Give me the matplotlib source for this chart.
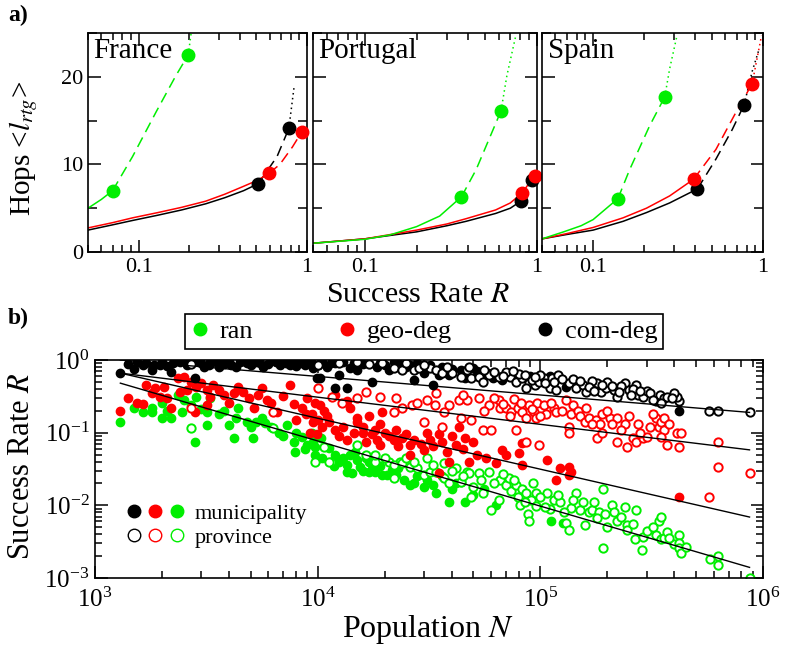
import matplotlib
matplotlib.use('Agg')
import matplotlib.pyplot as plt
from matplotlib.lines import Line2D
from matplotlib.legend_handler import HandlerTuple
from matplotlib.ticker import NullFormatter, FixedLocator, MultipleLocator, LogLocator

plt.rcParams['font.family'] = ['Liberation Serif', 'DejaVu Serif']
plt.rcParams['mathtext.fontset'] = 'stix'

GREEN = '#00ee00'
RED = '#ff0000'
BLACK = '#000000'

# ---------------- panel a: hops vs success rate ----------------
# points; the two dots split solid / dashed / dotted
fr_ran_R = [0.05, 0.06, 0.070, 0.092, 0.127, 0.166, 0.197, 0.205]
fr_ran_L = [5.0, 6.0, 7.0, 10.9, 16.0, 20.1, 22.5, 25.0]
fr_ran_dots_R = [0.070, 0.197]
fr_ran_dots_L = [7.0, 22.5]
fr_geo_R = [0.05, 0.07, 0.092, 0.13, 0.18, 0.25, 0.325, 0.42, 0.51, 0.596, 0.69, 0.82, 0.93]
fr_geo_L = [2.75, 3.35, 3.9, 4.5, 5.1, 5.8, 6.6, 7.5, 8.2, 9.0, 10.0, 12.0, 13.7]
fr_geo_dots_R = [0.596, 0.93]
fr_geo_dots_L = [9.0, 13.7]
fr_com_R = [0.05, 0.07, 0.092, 0.13, 0.18, 0.25, 0.325, 0.42, 0.514, 0.664, 0.78, 0.84]
fr_com_L = [2.5, 3.1, 3.6, 4.2, 4.8, 5.5, 6.2, 7.0, 7.8, 10.9, 14.1, 19.0]
fr_com_dots_R = [0.514, 0.78]
fr_com_dots_L = [7.8, 14.1]

pt_ran_R = [0.05, 0.1, 0.14, 0.2, 0.272, 0.364, 0.443, 0.527, 0.618, 0.668, 0.753]
pt_ran_L = [1.0, 1.45, 1.95, 2.9, 4.1, 6.3, 9.4, 12.9, 16.1, 20.1, 24.7]
pt_ran_dots_R = [0.364, 0.618]
pt_ran_dots_L = [6.3, 16.1]
pt_geo_R = [0.05, 0.1, 0.2, 0.3, 0.387, 0.575, 0.7, 0.816, 0.968]
pt_geo_L = [1.0, 1.5, 2.5, 3.2, 3.8, 4.8, 5.6, 6.7, 8.7]
pt_geo_dots_R = [0.816, 0.968]
pt_geo_dots_L = [6.7, 8.7]
pt_com_R = [0.05, 0.1, 0.2, 0.3, 0.387, 0.575, 0.7, 0.805, 0.93]
pt_com_L = [1.0, 1.5, 2.3, 3.0, 3.5, 4.4, 5.0, 5.8, 8.2]
pt_com_dots_R = [0.805, 0.93]
pt_com_dots_L = [5.8, 8.2]

es_ran_R = [0.05, 0.067, 0.085, 0.1, 0.14, 0.164, 0.215, 0.264, 0.282, 0.31]
es_ran_L = [1.5, 2.3, 3.0, 3.7, 6.1, 9.4, 14.4, 17.7, 20.9, 24.5]
es_ran_dots_R = [0.14, 0.264]
es_ran_dots_L = [6.1, 17.7]
es_geo_R = [0.05, 0.07, 0.1, 0.15, 0.206, 0.282, 0.39, 0.528, 0.691, 0.863, 0.98]
es_geo_L = [1.5, 2.1, 2.8, 3.9, 5.0, 6.4, 8.3, 11.7, 15.9, 19.2, 24.7]
es_geo_dots_R = [0.39, 0.863]
es_geo_dots_L = [8.3, 19.2]
es_com_R = [0.05, 0.07, 0.1, 0.15, 0.206, 0.282, 0.411, 0.528, 0.66, 0.774, 0.863, 0.95]
es_com_L = [1.5, 2.0, 2.5, 3.5, 4.5, 5.6, 7.2, 10.6, 14.0, 16.8, 20.6, 23.2]
es_com_dots_R = [0.411, 0.774]
es_com_dots_L = [7.2, 16.8]

countries = ['France', 'Portugal', 'Spain']

# ---------------- panel b: success rate vs population ----------------
com_mun_N = [1300, 1500, 1650, 1800, 1850, 2000, 2200, 2250, 2400, 2700, 2800, 3000, 3300, 3600,
             4000, 4300, 4800, 5300, 5700, 6500, 7500, 8500, 9500, 9900, 10000, 11000, 10200, 12500,
             12000, 13600, 14000, 15000, 17500, 18500, 21000, 27000, 30000, 33000, 35000, 39000,
             46000, 61000, 67000, 130000, 420000, 2100, 2600, 3100, 3500, 3800, 4500, 5000, 6000,
             7000, 8000, 9000, 12000, 16000, 20000, 23000, 25000, 40000, 52000, 58000, 75000, 90000,
             1400, 1550, 1700, 1950, 2300, 2550, 2900, 3250, 3700, 4100, 4600, 5100, 5500, 6200,
             6800, 7200, 7800, 8300, 8800, 9300, 10500, 11500, 13000, 14500, 19000, 22000, 26000,
             28000, 32000, 36000, 44000, 50000, 55000, 80000, 110000]
com_mun_R = [0.66, 0.75, 0.85, 0.73, 0.85, 0.94, 0.68, 0.9, 0.93, 0.93, 0.56, 0.9, 0.93, 0.8,
             0.93, 0.8, 0.9, 0.93, 0.8, 0.93, 0.85, 0.9, 0.78, 0.56, 0.85, 0.8, 0.57, 0.62,
             0.41, 0.41, 0.78, 0.73, 0.5, 0.8, 0.73, 0.53, 0.66, 0.45, 0.62, 0.62,
             0.57, 0.57, 0.53, 0.43, 0.2, 0.82, 0.86, 0.8, 0.95, 0.88, 0.95, 0.85, 0.88,
             0.95, 0.82, 0.92, 0.9, 0.88, 0.85, 0.9, 0.8, 0.75, 0.7, 0.66, 0.62, 0.6,
             0.88, 0.95, 0.9, 0.85, 0.97, 0.95, 0.97, 0.85, 0.97, 0.86, 0.97, 0.97, 0.9, 0.97,
             0.86, 0.9, 0.97, 0.95, 0.85, 0.97, 0.95, 0.9, 0.95, 0.9, 0.9, 0.95, 0.85,
             0.9, 0.85, 0.8, 0.72, 0.78, 0.65, 0.6, 0.6]

com_prov_N = [2700, 10000, 19500, 22000, 24000, 27000, 28500, 32000, 34000, 36000, 40000, 44000,
              49000, 53000, 55000, 59000, 65000, 73000, 78000, 83000, 89000, 95000, 86000, 92000,
              99000, 104000, 113000, 110000, 118000, 135000, 145000, 155000, 160000, 180000, 188000,
              197000, 215000, 220000, 240000, 250000, 270000, 275000, 290000, 330000, 345000, 360000,
              370000, 420000, 410000, 570000, 630000, 870000, 12500, 15000, 17000, 25000, 30000,
              38000, 47000, 70000, 80000, 100000, 120000, 140000, 170000, 200000, 230000, 260000,
              300000, 400000, 48000, 56000, 62000, 68000, 75000, 85000, 95000, 105000, 115000,
              125000, 150000, 165000, 175000, 190000, 210000, 225000, 255000, 280000, 310000,
              320000, 350000, 390000]
com_prov_R = [0.88, 0.85, 0.9, 0.78, 0.73, 0.73, 0.78, 0.78, 0.73, 0.66, 0.66, 0.58,
              0.57, 0.58, 0.5, 0.62, 0.58, 0.58, 0.5, 0.57, 0.48, 0.45, 0.41, 0.53,
              0.5, 0.57, 0.57, 0.41, 0.39, 0.48, 0.41, 0.45, 0.36, 0.48, 0.36,
              0.41, 0.39, 0.31, 0.48, 0.39, 0.45, 0.33, 0.31, 0.27, 0.33, 0.3,
              0.31, 0.27, 0.31, 0.2, 0.2, 0.19, 0.92, 0.95, 0.88, 0.92, 0.85,
              0.8, 0.72, 0.68, 0.65, 0.62, 0.62, 0.55, 0.52, 0.5, 0.44, 0.4,
              0.38, 0.35, 0.8, 0.72, 0.68, 0.6, 0.7, 0.62, 0.58, 0.48, 0.5,
              0.55, 0.52, 0.42, 0.38, 0.45, 0.44, 0.36, 0.33, 0.38, 0.35,
              0.28, 0.26, 0.3]

geo_mun_N = [1300, 1540, 1650, 1800, 1860, 1950, 2050, 2200, 2350, 2500, 2400, 2600, 2800, 2850,
             3000, 3200, 3300, 3200, 3600, 4000, 4200, 4400, 4900, 5200, 5600, 5900, 6600, 7500,
             8000, 8900, 9500, 9900, 9200, 9700, 10700, 9400, 10000, 10500, 11300, 12000, 13000,
             14000, 15000, 15000, 16000, 16000, 17500, 18500, 19000, 19500, 17000, 20000, 22500,
             22000, 24000, 26000, 26000, 30000, 32000, 35000, 38000, 42000, 43000, 46000, 52000,
             48000, 67000, 63000, 80000, 83000, 83000, 39000, 35000, 107000, 118000, 123000,
             135000, 135000, 137000, 420000,
             11000, 12500, 13500, 14500, 16500, 18000, 19000, 21000, 23000, 25000, 27000, 29000,
             31000, 33000, 36000, 40000, 45000, 50000, 57000, 70000, 1400, 1700, 2100, 2700,
             3400, 3800, 4600, 5400, 6200, 7000, 7800, 8500, 9000, 10200, 12000, 13500]
geo_mun_R = [0.2, 0.26, 0.25, 0.35, 0.41, 0.31, 0.43, 0.22, 0.56, 0.58, 0.36, 0.39, 0.19, 0.43,
             0.48, 0.39, 0.31, 0.24, 0.39, 0.26, 0.35, 0.43, 0.3, 0.22, 0.41, 0.28, 0.19, 0.45,
             0.15, 0.18, 0.14, 0.095, 0.1, 0.26, 0.2, 0.18, 0.15, 0.12, 0.14, 0.11, 0.12,
             0.22, 0.16, 0.14, 0.12, 0.1, 0.095, 0.08, 0.068, 0.19, 0.17, 0.1, 0.11,
             0.08, 0.085, 0.068, 0.05, 0.058, 0.08, 0.095, 0.055, 0.068, 0.12, 0.085, 0.05,
             0.04, 0.058, 0.038, 0.053, 0.072, 0.036, 0.04, 0.028, 0.042, 0.022, 0.033,
             0.034, 0.026, 0.029, 0.013,
             0.17, 0.09, 0.08, 0.1, 0.075, 0.11, 0.13, 0.09, 0.065, 0.095, 0.08, 0.07,
             0.1, 0.065, 0.075, 0.09, 0.06, 0.075, 0.045, 0.05, 0.3, 0.45, 0.3, 0.5,
             0.45, 0.33, 0.36, 0.33, 0.26, 0.32, 0.25, 0.22, 0.3, 0.24, 0.33, 0.27]

geo_prov_N = [2700, 6300, 10000, 11600, 12800, 15000, 16500, 19000, 22500, 22000, 24000, 26500,
              28000, 31000, 33500, 34000, 37000, 36000, 30000, 39000, 43000, 44000, 47000, 49000,
              53000, 55000, 59000, 60000, 65000, 66000, 70000, 74000, 73000, 79000, 83000, 86000,
              89000, 94000, 96000, 78000, 86000, 97000, 104000, 106000, 115000, 118000, 140000,
              138000, 148000, 150000, 134000, 134000, 158000, 166000, 178000, 186000, 190000,
              180000, 190000, 205000, 220000, 210000, 220000, 240000, 245000, 260000, 270000,
              275000, 290000, 300000, 330000, 340000, 350000, 360000, 360000, 350000, 370000,
              410000, 430000, 420000, 630000, 630000, 870000, 570000, 99000,
              45000, 56000, 62000, 68000, 76000, 82000, 92000, 100000, 112000, 125000, 130000,
              160000, 170000, 200000, 230000, 250000, 280000, 310000, 320000, 380000]
geo_prov_R = [0.22, 0.19, 0.41, 0.31, 0.26, 0.3, 0.36, 0.31, 0.3, 0.19, 0.22, 0.24,
              0.26, 0.28, 0.24, 0.35, 0.19, 0.12, 0.14, 0.24, 0.28, 0.16, 0.28, 0.15,
              0.3, 0.11, 0.24, 0.11, 0.28, 0.22, 0.22, 0.19, 0.17, 0.22, 0.19, 0.16,
              0.24, 0.19, 0.16, 0.11, 0.074, 0.26, 0.24, 0.18, 0.22, 0.19, 0.24,
              0.18, 0.2, 0.17, 0.12, 0.1, 0.14, 0.16, 0.15, 0.13, 0.18,
              0.085, 0.1, 0.16, 0.16, 0.13, 0.074, 0.13, 0.063, 0.085, 0.074,
              0.13, 0.085, 0.088, 0.16, 0.12, 0.14, 0.11, 0.16, 0.088, 0.068,
              0.1, 0.1, 0.063, 0.074, 0.034, 0.028, 0.013, 0.068,
              0.33, 0.2, 0.3, 0.25, 0.29, 0.26, 0.21, 0.17, 0.26, 0.2, 0.28,
              0.22, 0.13, 0.2, 0.11, 0.17, 0.1, 0.12, 0.18, 0.13]

ran_mun_N = [1300, 1500, 1650, 1800, 1800, 2000, 2000, 2200, 2350, 2450, 2500, 2700, 2800, 2850,
             3200, 3200, 3300, 3600, 4000, 4200, 4300, 4400, 4800, 5100, 5300, 5600, 5800, 6700,
             7300, 7800, 7900, 8500, 9000, 9500, 9700, 9400, 9700, 10300, 11300, 12000, 12500,
             13600, 14000, 14700, 15000, 15500, 16000, 17000, 18000, 13600, 17000, 19500, 21500,
             22500, 26000, 27000, 30000, 31000, 34000, 39000, 42000, 44000, 46000, 56000, 63000,
             112000, 127000,
             10500, 11800, 13000, 14200, 16500, 17500, 19000, 20500, 23000, 24500, 28000, 33000,
             36000, 40000, 50000, 2100, 3000, 3800, 5000, 6200, 7000, 8000, 8800]
ran_mun_R = [0.14, 0.22, 0.19, 0.19, 0.22, 0.26, 0.16, 0.16, 0.33, 0.19, 0.28, 0.24, 0.074, 0.31,
             0.126, 0.19, 0.3, 0.18, 0.126, 0.085, 0.16, 0.22, 0.14, 0.085, 0.14, 0.16, 0.136, 0.1,
             0.126, 0.074, 0.055, 0.088, 0.068, 0.074, 0.05, 0.1, 0.063, 0.085, 0.062, 0.05, 0.04,
             0.036, 0.05, 0.055, 0.042, 0.034, 0.03, 0.04, 0.029, 0.029, 0.029, 0.026, 0.031,
             0.026, 0.019, 0.02, 0.018, 0.022, 0.015, 0.011, 0.02, 0.021, 0.011, 0.017, 0.01,
             0.006, 0.0057,
             0.045, 0.035, 0.045, 0.028, 0.045, 0.036, 0.035, 0.026, 0.033, 0.022, 0.025, 0.019,
             0.025, 0.017, 0.014, 0.2, 0.21, 0.2, 0.12, 0.12, 0.09, 0.1, 0.06]

ran_prov_N = [2700, 6300, 10700, 11500, 15000, 16500, 18000, 21000, 23500, 26000, 31000, 37000,
              42000, 47000, 53000, 59000, 9700, 11300, 22000, 24000, 22000, 28000, 30000, 32000,
              34000, 37000, 39000, 44000, 48000, 49000, 54000, 60000, 66000, 70000, 72000, 74000,
              78000, 79000, 81000, 83000, 86000, 88000, 91000, 96000, 96000, 89000, 107000, 115000,
              110000, 123000, 130000, 134000, 137000, 145000, 150000, 158000, 166000, 170000,
              183000, 180000, 192000, 192000, 200000, 210000, 215000, 220000, 240000, 245000,
              245000, 270000, 265000, 285000, 290000, 330000, 340000, 350000, 350000, 360000,
              370000, 400000, 420000, 420000, 420000, 430000, 580000, 630000, 630000, 870000,
              50000, 55000, 62000, 65000, 68000, 76000, 85000, 93000, 100000, 105000, 120000,
              128000, 140000, 155000, 175000, 195000, 230000, 260000, 300000, 320000, 380000,
              450000, 18000, 20000, 25000, 27000, 33000, 40000, 45000]
ran_prov_R = [0.116, 0.116, 0.063, 0.04, 0.068, 0.05, 0.04, 0.04, 0.04, 0.034, 0.045, 0.038,
              0.033, 0.029, 0.028, 0.029, 0.04, 0.04, 0.036, 0.038, 0.024, 0.033, 0.026, 0.029,
              0.029, 0.024, 0.02, 0.021, 0.028, 0.013, 0.022, 0.0087, 0.022, 0.019, 0.024, 0.016,
              0.019, 0.013, 0.01, 0.017, 0.015, 0.0075, 0.012, 0.015, 0.0097, 0.006, 0.015, 0.012,
              0.009, 0.011, 0.0057, 0.0046, 0.0093, 0.015, 0.0087, 0.0054, 0.008, 0.0087,
              0.0082, 0.0067, 0.0026, 0.017, 0.005, 0.01, 0.008, 0.006, 0.0095, 0.0054,
              0.0046, 0.0087, 0.0034, 0.0024, 0.0037, 0.0039, 0.006, 0.007, 0.0034, 0.0036,
              0.0043, 0.0029, 0.0039, 0.003, 0.0026, 0.0022, 0.0018, 0.002, 0.0015, 0.001,
              0.018, 0.015, 0.02, 0.012, 0.027, 0.022, 0.011, 0.02, 0.013, 0.0095, 0.014,
              0.008, 0.012, 0.011, 0.011, 0.0075, 0.007, 0.0055, 0.0045, 0.005, 0.0035,
              0.0027, 0.05, 0.045, 0.045, 0.04, 0.036, 0.03, 0.025]

# power-law fit lines (end points)
fit_N = [1300, 870000]
fit_com_R = [1.0, 0.19]
fit_geo_prov_R = [0.66, 0.058]
fit_geo_mun_R = [0.66, 0.0069]
fit_ran_R = [0.48, 0.0014]


def draw_curve(ax, R, L, dots_R, dots_L, color):
    lo, hi = dots_R
    solid = [(r, l) for r, l in zip(R, L) if r <= lo]
    dash = [(r, l) for r, l in zip(R, L) if lo <= r <= hi]
    dot = [(r, l) for r, l in zip(R, L) if r >= hi]
    for seg, ls in ((solid, '-'), (dash, (0, (7, 4))), (dot, (0, (1, 2.2)))):
        if len(seg) > 1:
            xs, ys = zip(*seg)
            ax.plot(xs, ys, color=color, lw=1.1, ls=ls)
    ax.plot(dots_R, dots_L, 'o', color=color, ms=9, clip_on=False, zorder=5)


def style_ticks(ax, size):
    ax.tick_params(which='both', direction='in', top=True, right=True, width=1.1,
                   labelsize=size)
    ax.tick_params(which='major', length=9)
    ax.tick_params(which='minor', length=5)
    for sp in ax.spines.values():
        sp.set_linewidth(1.2)


fig = plt.figure(figsize=(7.87, 6.48), dpi=100)

a_bottom = 1 - 252 / 648
a_height = (252 - 33) / 648
a_boxes = [(88, 219), (313, 224), (542, 221)]

curves = [
    [(fr_com_R, fr_com_L, fr_com_dots_R, fr_com_dots_L, BLACK),
     (fr_geo_R, fr_geo_L, fr_geo_dots_R, fr_geo_dots_L, RED),
     (fr_ran_R, fr_ran_L, fr_ran_dots_R, fr_ran_dots_L, GREEN)],
    [(pt_com_R, pt_com_L, pt_com_dots_R, pt_com_dots_L, BLACK),
     (pt_geo_R, pt_geo_L, pt_geo_dots_R, pt_geo_dots_L, RED),
     (pt_ran_R, pt_ran_L, pt_ran_dots_R, pt_ran_dots_L, GREEN)],
    [(es_com_R, es_com_L, es_com_dots_R, es_com_dots_L, BLACK),
     (es_geo_R, es_geo_L, es_geo_dots_R, es_geo_dots_L, RED),
     (es_ran_R, es_ran_L, es_ran_dots_R, es_ran_dots_L, GREEN)],
]

for i, (name, (left, width)) in enumerate(zip(countries, a_boxes)):
    ax = fig.add_axes([left / 787, a_bottom, width / 787, a_height])
    for R, L, dR, dL, c in curves[i]:
        draw_curve(ax, R, L, dR, dL, c)
    ax.set_xscale('log')
    ax.set_xlim(0.05, 1)
    ax.set_ylim(0, 25)
    ax.xaxis.set_major_locator(FixedLocator([0.1, 1]))
    ax.set_xticklabels(['0.1', '1'])
    ax.xaxis.set_minor_formatter(NullFormatter())
    ax.yaxis.set_major_locator(FixedLocator([0, 10, 20]))
    ax.yaxis.set_minor_locator(MultipleLocator(5))
    style_ticks(ax, 16)
    ax.tick_params(axis='y', which='minor', length=6.5)
    ax.tick_params(axis='x', pad=4)
    if i > 0:
        ax.tick_params(labelleft=False)
    ax.text(0.025, 0.975, name, transform=ax.transAxes, ha='left', va='top', fontsize=21)

fig.text(8 / 787, 1 - 15 / 648, 'a)', fontsize=17, fontweight='bold', ha='left', va='center')
fig.text(418 / 787, 1 - 295 / 648, 'Success Rate $R$', fontsize=21.5, ha='center', va='center')
fig.text(24 / 787, 1 - 148 / 648, 'Hops <$l_{rtg}$>', fontsize=21, rotation=90,
         ha='center', va='center')

# panel b
axb = fig.add_axes([95 / 787, 1 - 578 / 648, 668 / 787, 218 / 648])
mk = 6
ew = 1.4
axb.plot(ran_mun_N, ran_mun_R, 'o', color=GREEN, ms=mk, ls='none')
axb.plot(ran_prov_N, ran_prov_R, 'o', mfc='white', mec=GREEN, mew=ew, ms=mk, ls='none')
axb.plot(geo_mun_N, geo_mun_R, 'o', color=RED, ms=mk, ls='none')
axb.plot(geo_prov_N, geo_prov_R, 'o', mfc='white', mec=RED, mew=ew, ms=mk, ls='none')
axb.plot(com_mun_N, com_mun_R, 'o', color=BLACK, ms=mk, ls='none')
axb.plot(com_prov_N, com_prov_R, 'o', mfc='white', mec=BLACK, mew=ew, ms=mk, ls='none')
for fit_R in (fit_com_R, fit_geo_prov_R, fit_geo_mun_R, fit_ran_R):
    axb.plot(fit_N, fit_R, color=BLACK, lw=1.0)

axb.set_xscale('log')
axb.set_yscale('log')
axb.set_xlim(1e3, 1e6)
axb.set_ylim(1e-3, 1)
axb.yaxis.set_minor_locator(LogLocator(base=10, subs=range(2, 10), numticks=20))
axb.xaxis.set_minor_locator(LogLocator(base=10, subs=range(2, 10), numticks=20))
axb.xaxis.set_minor_formatter(NullFormatter())
axb.yaxis.set_minor_formatter(NullFormatter())
style_ticks(axb, 18)
axb.tick_params(axis='x', pad=7)
axb.tick_params(axis='y', pad=4)

fig.text(8 / 787, 1 - 318 / 648, 'b)', fontsize=17, fontweight='bold', ha='left', va='center')
fig.text(428 / 787, 1 - 630 / 648, 'Population $N$', fontsize=23, ha='center', va='center')
fig.text(22 / 787, 1 - 466 / 648, 'Success Rate $R$', fontsize=22, rotation=90,
         ha='center', va='center')

top_handles = [Line2D([], [], marker='o', ls='none', color=c, ms=9, label=t)
               for c, t in ((GREEN, 'ran'), (RED, 'geo-deg'), (BLACK, 'com-deg'))]
leg = fig.legend(handles=top_handles, loc='center', bbox_to_anchor=(424 / 787, 1 - 331.5 / 648),
                 ncol=3, frameon=True, fancybox=False, edgecolor='black', framealpha=1,
                 handlelength=0.7, handletextpad=0.4, columnspacing=3.2, fontsize=19,
                 borderpad=0.2)
leg.get_frame().set_linewidth(1.2)

filled = tuple(Line2D([], [], marker='o', ls='none', color=c, ms=9) for c in (BLACK, RED, GREEN))
hollow = tuple(Line2D([], [], marker='o', ls='none', mfc='white', mec=c, mew=1.0, ms=9)
               for c in (BLACK, RED, GREEN))
axb.legend(handles=[filled, hollow], labels=['municipality', 'province'],
           handler_map={tuple: HandlerTuple(ndivide=None, pad=0.5)},
           loc='center left', bbox_to_anchor=(0.02, 0.24), frameon=False, fontsize=16,
           handlelength=2.4, handletextpad=0.6, labelspacing=0.15)

fig.savefig('out.png', dpi=100)
